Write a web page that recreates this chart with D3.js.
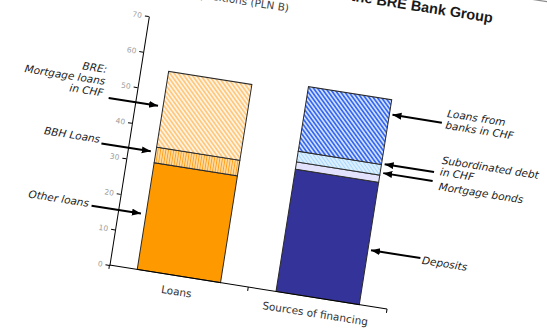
<!DOCTYPE html>
<html>
<head>
<meta charset="utf-8">
<script src="https://cdn.jsdelivr.net/npm/d3@7"></script>
<style>
  body { margin: 0; background: #fff; }
  svg { display: block; }
</style>
</head>
<body>
<script>
// values in PLN B
const categories = ["Loans", "Sources of financing"];
const loanParts = ["Other loans", "BBH Loans", "BRE: Mortgage loans in CHF"];
const loanValues = [30, 4.4, 21.3];
const sourceParts = ["Deposits", "Mortgage bonds", "Subordinated debt in CHF", "Loans from banks in CHF"];
const sourceValues = [34.4, 2.0, 3.0, 18.2];
const yTicks = [0, 10, 20, 30, 40, 50, 60, 70];

const w = 547;
const h = 328;

const svg = d3.select("body")
  .append("svg")
  .attr("width", w)
  .attr("height", h);

svg.append("rect").attr("width", w).attr("height", h).attr("fill", "#fff");

// hatch patterns
const defs = svg.append("defs");
function stripes(id, bg, fg, size, angle, sw) {
  const p = defs.append("pattern")
    .attr("id", id)
    .attr("patternUnits", "userSpaceOnUse")
    .attr("width", size)
    .attr("height", size)
    .attr("patternTransform", "rotate(" + angle + ")");
  p.append("rect").attr("width", size).attr("height", size).attr("fill", bg);
  p.append("line")
    .attr("x1", size / 2).attr("y1", 0)
    .attr("x2", size / 2).attr("y2", size)
    .attr("stroke", fg)
    .attr("stroke-width", sw);
}
stripes("hMort", "#fff4e4", "#ffbb5c", 3.4, -45, 1.3);
stripes("hBBH", "#ffe2b0", "#ff9f1a", 2.6, 0, 1.1);
stripes("hBanks", "#d0deff", "#3366f0", 3.3, -45, 1.6);
stripes("hSub", "#e3f3ff", "#a9d7ff", 3.0, -45, 1.2);

const loanFills = ["#ff9900", "url(#hBBH)", "url(#hMort)"];
const sourceFills = ["#333399", "#e2e2fc", "url(#hSub)", "url(#hBanks)"];

// the whole slide is photographed tilted
const g = svg.append("g")
  .attr("transform", "translate(109.5,265) rotate(9)");

const x = d3.scaleBand()
  .domain(categories)
  .range([0, 281])
  .paddingInner(0.4)
  .paddingOuter(0.2);

const y = d3.scaleLinear()
  .domain([0, 70])
  .range([0, -252]);

// frame line at the top
g.append("line")
  .attr("x1", -300).attr("x2", 700)
  .attr("y1", -328.5).attr("y2", -328.5)
  .attr("stroke", "#8a8a8a")
  .attr("stroke-width", 1.2);

// title (mostly cut off by the photo)
g.append("text")
  .attr("x", 340).attr("y", -299)
  .attr("text-anchor", "end")
  .attr("font-family", "Liberation Sans, Arial, sans-serif")
  .attr("font-size", 14.5)
  .attr("font-weight", "bold")
  .attr("fill", "#1a1a1a")
  .text("Loans and funding positions of the BRE Bank Group");
g.append("text")
  .attr("x", 137).attr("y", -278)
  .attr("text-anchor", "end")
  .attr("font-family", "DejaVu Sans, Verdana, sans-serif")
  .attr("font-size", 10.5)
  .attr("fill", "#444")
  .text("CHF positions (PLN B)");

// stacked bars
function stackOf(parts, values, fills) {
  const tops = d3.cumsum(values);
  return parts.map((p, i) => ({
    name: p,
    y0: i === 0 ? 0 : tops[i - 1],
    y1: tops[i],
    fill: fills[i]
  }));
}
const stacks = [
  { cat: categories[0], segs: stackOf(loanParts, loanValues, loanFills) },
  { cat: categories[1], segs: stackOf(sourceParts, sourceValues, sourceFills) }
];

stacks.forEach(s => {
  g.selectAll(null)
    .data(s.segs)
    .enter()
    .append("rect")
    .attr("x", x(s.cat))
    .attr("width", x.bandwidth())
    .attr("y", d => y(d.y1))
    .attr("height", d => y(d.y0) - y(d.y1))
    .attr("fill", d => d.fill)
    .attr("stroke", "#2a2a2a")
    .attr("stroke-width", 1);
});

// y axis
const yAxis = g.append("g")
  .call(d3.axisLeft(y).tickValues(yTicks).tickSize(4).tickSizeOuter(0).tickPadding(3));
yAxis.select(".domain").attr("stroke", "#000");
yAxis.selectAll(".tick line").attr("stroke", "#000");
yAxis.selectAll("text")
  .attr("font-family", "DejaVu Sans, Verdana, sans-serif")
  .attr("font-size", 7.5)
  .attr("fill", "#a0a0a0");

// x axis with ticks between categories
const bounds = [0, x(categories[1]) - x.step() * x.paddingInner() / 2, 281];
g.append("line")
  .attr("x1", 0).attr("x2", 281)
  .attr("y1", 0).attr("y2", 0)
  .attr("stroke", "#000");
g.selectAll(null)
  .data(bounds)
  .enter()
  .append("line")
  .attr("x1", d => d).attr("x2", d => d)
  .attr("y1", 0).attr("y2", 4)
  .attr("stroke", "#000");
g.selectAll(null)
  .data(categories)
  .enter()
  .append("text")
  .attr("x", d => x(d) + x.bandwidth() / 2)
  .attr("y", 19.5)
  .attr("text-anchor", "middle")
  .attr("font-family", "DejaVu Sans, Verdana, sans-serif")
  .attr("font-size", 10.5)
  .attr("fill", "#333")
  .text(d => d);

// annotations with arrows
defs.append("marker")
  .attr("id", "arrow")
  .attr("markerUnits", "userSpaceOnUse")
  .attr("markerWidth", 10).attr("markerHeight", 8)
  .attr("refX", 9).attr("refY", 3.5)
  .attr("orient", "auto")
  .append("path")
  .attr("d", "M0,0 L9,3.5 L0,7 Z")
  .attr("fill", "#000");

const notes = [
  { lines: ["BRE:", "Mortgage loans", "in CHF"], side: "left", tx: -33, ty: -189, at: 45.8 },
  { lines: ["BBH Loans"], side: "left", tx: -29, ty: -119, at: 33 },
  { lines: ["Other loans"], side: "left", tx: -30, ty: -54, at: 15.5 },
  { lines: ["Loans from", "banks in CHF"], side: "right", tx: 310, ty: -199, at: 53.5 },
  { lines: ["Subordinated debt", "in CHF"], side: "right", tx: 312, ty: -152, at: 39.6 },
  { lines: ["Mortgage bonds"], side: "right", tx: 313, ty: -125.5, at: 37.1 },
  { lines: ["Deposits"], side: "right", tx: 308, ty: -50, at: 15.4 }
];

notes.forEach(n => {
  const t = g.append("text")
    .attr("text-anchor", n.side === "left" ? "end" : "start")
    .attr("font-family", "DejaVu Sans, Verdana, sans-serif")
    .attr("font-style", "italic")
    .attr("font-size", 10.5)
    .attr("fill", "#222");
  n.lines.forEach((l, i) => {
    t.append("tspan").attr("x", n.tx).attr("y", n.ty + i * 11.8).text(l);
  });
  const x1 = n.side === "left" ? -27 : 306;
  const x2 = n.side === "left" ? 23 : 256;
  g.append("line")
    .attr("x1", x1).attr("x2", x2)
    .attr("y1", y(n.at)).attr("y2", y(n.at))
    .attr("stroke", "#000")
    .attr("stroke-width", 2)
    .attr("marker-end", "url(#arrow)");
});
</script>
</body>
</html>
